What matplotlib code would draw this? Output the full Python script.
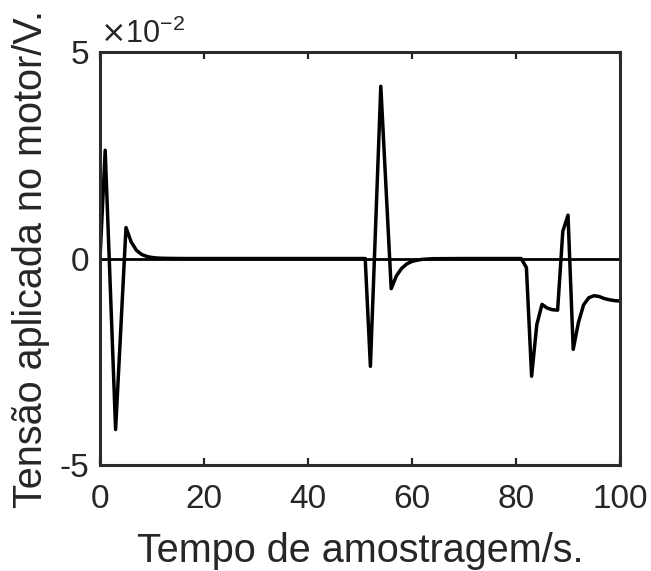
import matplotlib
matplotlib.use("Agg")
import matplotlib.pyplot as plt

plt.rcParams['font.family'] = ['Liberation Sans', 'DejaVu Sans']

# sample index and control voltage (units of 1e-2 V)
t = [0, 1, 2, 3, 4, 5, 6, 7, 8, 9, 10, 11, 12, 14, 16, 20, 30, 40, 50,
     51, 52, 53, 54, 55, 56, 57, 58, 59, 60, 61, 62, 64, 70, 80,
     81, 82, 83, 84, 85, 86, 87, 88, 89, 90, 91, 92, 93, 94, 95, 96, 97, 98, 99, 100]
u = [0, 2.62, -0.76, -4.14, -1.70, 0.75, 0.40, 0.20, 0.10, 0.05, 0.025, 0.012, 0.006, 0.002, 0.0, 0.0, 0.0, 0.0, 0.0,
     0.0, -2.61, 0.78, 4.17, 1.72, -0.73, -0.42, -0.24, -0.13, -0.07, -0.04, -0.02, -0.005, 0.0, 0.0,
     0.0, -0.22, -2.85, -1.60, -1.11, -1.20, -1.24, -1.25, 0.66, 1.05, -2.20, -1.55, -1.12, -0.95, -0.90, -0.92, -0.97, -1.00, -1.02, -1.03]
ref_t = [0, 100]
ref_u = [0, 0]

xticks = [0, 20, 40, 60, 80, 100]
yticks = [-5, 0, 5]

fig = plt.figure(figsize=(6.51, 5.71), dpi=100)
ax = fig.add_axes([0.1536, 0.1856, 0.7988, 0.7233])
ax.plot(ref_t, ref_u, color='black', lw=2.0)
ax.plot(t, u, color='black', lw=2.5)
ax.set_xlim(0, 100)
ax.set_ylim(-5, 5)
ax.set_xticks(xticks)
ax.set_yticks(yticks)
ax.set_yticklabels(['-5', '0', '5'])
ax.tick_params(direction='in', length=5, width=1.6, color='#262626', labelsize=24,
               labelcolor='#262626', top=True, right=False)
ax.tick_params(axis='x', pad=14)
ax.tick_params(axis='y', length=0, pad=8)
for s in ax.spines.values():
    s.set_linewidth(2.2)
    s.set_color('#2b2b2b')
ax.set_xlabel('Tempo de amostragem/s.', fontsize=28.5, color='#262626')
ax.set_ylabel('Tensão aplicada no motor/V.', fontsize=28.5, color='#262626')
ax.xaxis.set_label_coords(0.5, -0.163)
ax.yaxis.set_label_coords(-0.096, 0.5)
ax.text(0.0, 1.005, r'$\times$10$^{\mathregular{-2}}$', transform=ax.transAxes, fontsize=22,
        color='#262626', ha='left', va='bottom')
fig.savefig('out.png', dpi=100)
